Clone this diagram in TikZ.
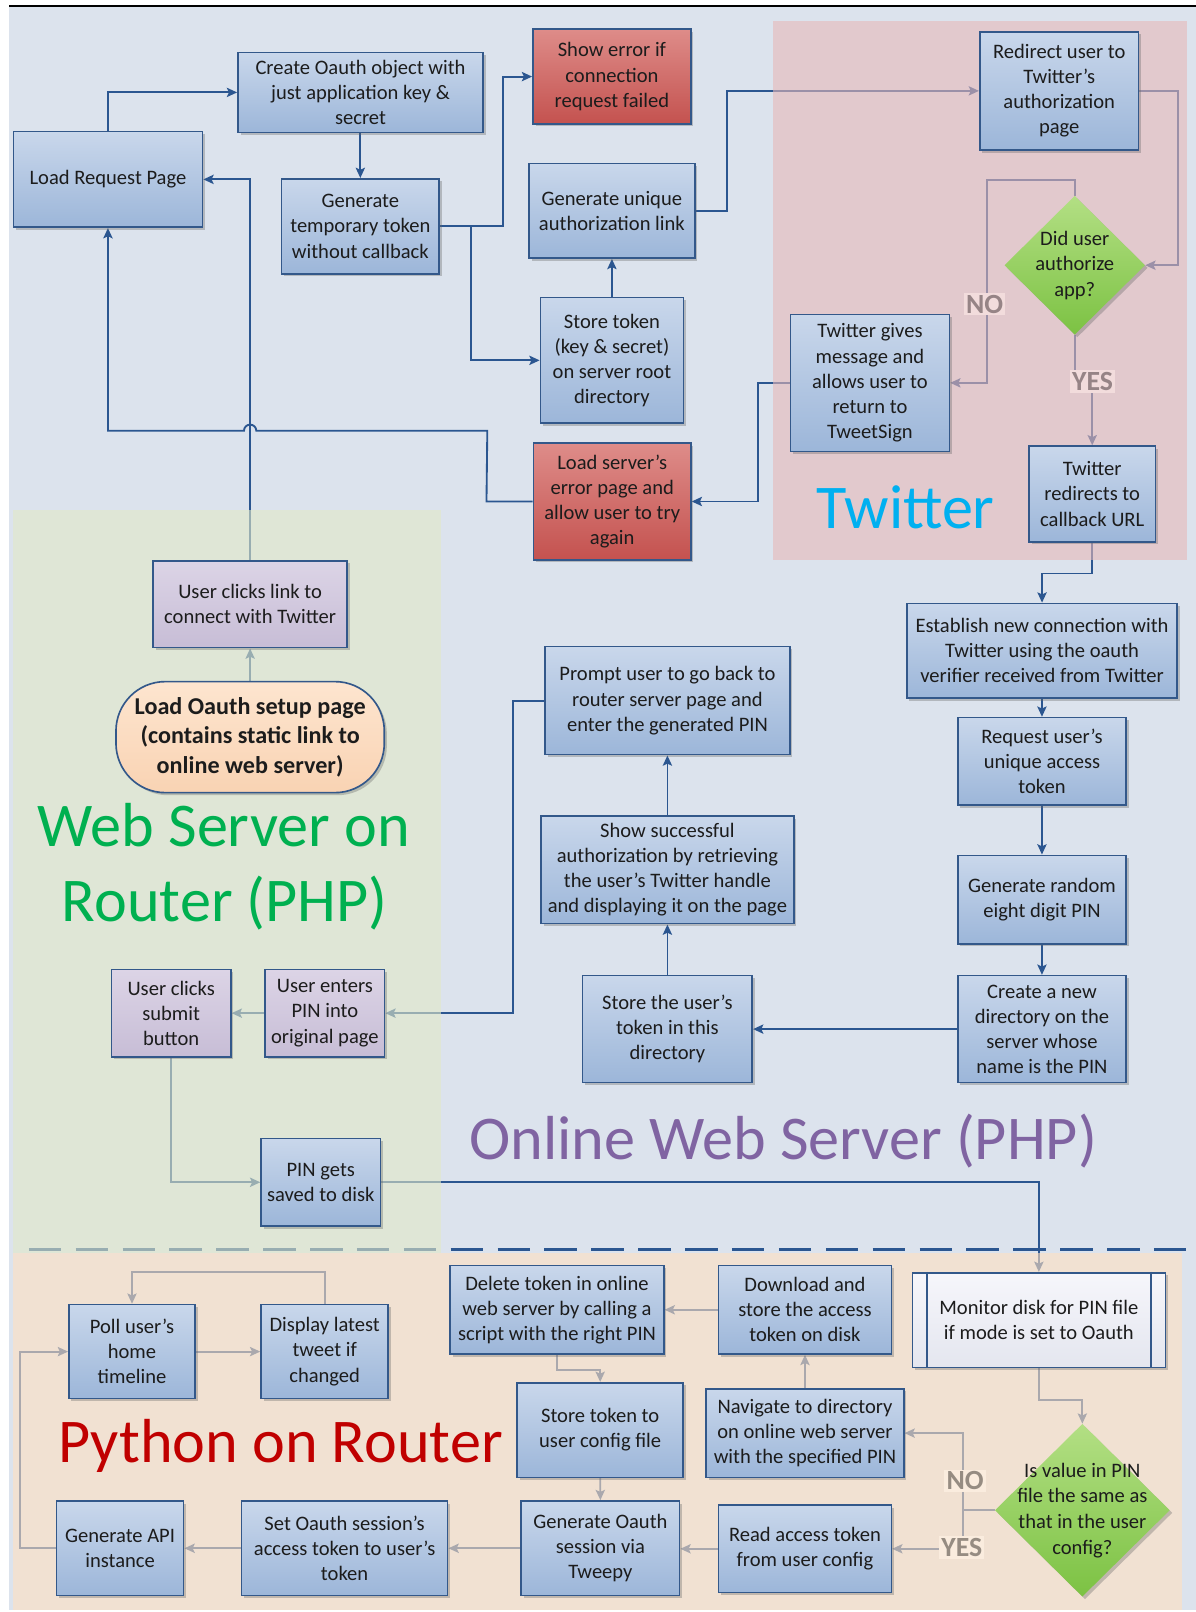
\documentclass[tikz,border=0pt]{standalone}
\usepackage{fontspec}
\setmainfont{Carlito}
\usetikzlibrary{arrows.meta,shapes.geometric,shadows,calc}
\definecolor{bgblue}{HTML}{DCE3ED}
\definecolor{linec}{HTML}{2B5690}
\definecolor{bordc}{HTML}{33588A}
\definecolor{txtc}{HTML}{1C1C1C}
\definecolor{twpink}{RGB}{230,184,185}
\definecolor{wsgreen}{RGB}{225,232,200}
\definecolor{pypeach}{RGB}{255,224,193}
\definecolor{bluetop}{HTML}{C9D7EB}
\definecolor{bluebot}{HTML}{9CB6D9}
\definecolor{redtop}{HTML}{DE8C89}
\definecolor{redbot}{HTML}{C4524F}
\definecolor{purtop}{HTML}{DCD4E6}
\definecolor{purbot}{HTML}{C7BDD6}
\definecolor{peachtop}{HTML}{FDE5CF}
\definecolor{peachbot}{HTML}{F9D3B3}
\definecolor{diamtop}{HTML}{B3DF84}
\definecolor{diambot}{HTML}{7CC243}
\definecolor{montop}{HTML}{F6F6FB}
\definecolor{monbot}{HTML}{E4E6EF}
\definecolor{twlabbg}{RGB}{242,220,220}
\definecolor{twlabtx}{RGB}{150,132,134}
\definecolor{pylabbg}{RGB}{250,236,222}
\definecolor{pylabtx}{RGB}{150,140,130}
\definecolor{tcyan}{HTML}{00B0F0}
\definecolor{tgreen}{HTML}{00B050}
\definecolor{tpurple}{HTML}{8064A2}
\definecolor{tred}{HTML}{C00000}
\pgfdeclarelayer{bgl}
\pgfdeclarelayer{lines}
\pgfdeclarelayer{regions}
\pgfsetlayers{bgl,lines,regions,main}
\tikzset{
  box/.style={rectangle, draw=bordc, line width=1.6pt, align=center, inner sep=1pt,
    text=txtc, font=\fontsize{20}{24.4}\selectfont,
    drop shadow={shadow xshift=2.5pt, shadow yshift=-2.5pt, opacity=0.35, fill=black!60}},
  bluebox/.style={box, top color=bluetop, bottom color=bluebot},
  redbox/.style={box, top color=redtop, bottom color=redbot},
  purplebox/.style={box, top color=purtop, bottom color=purbot},
  capsule/.style={box, rounded corners=48pt, top color=peachtop, bottom color=peachbot,
    font=\fontsize{23.5}{28.5}\selectfont\bfseries},
  monbox/.style={box, top color=montop, bottom color=monbot},
  diam/.style={diamond, draw=none, inner sep=0pt, top color=diamtop, bottom color=diambot,
    drop shadow={shadow xshift=2.5pt, shadow yshift=-2.5pt, opacity=0.35, fill=black!60}},
  dtext/.style={align=center, inner sep=0pt, text=txtc, font=\fontsize{20}{25}\selectfont},
  conn/.style={draw=linec, line width=1.8pt, -{Stealth[length=10pt,width=9pt,inset=2pt]}},
  plainline/.style={draw=linec, line width=1.8pt},
  dashline/.style={draw=linec, line width=3pt, dash pattern=on 31.6pt off 14pt},
  lab/.style={inner sep=2pt, font=\fontsize{27}{30}\selectfont\bfseries},
  ttl/.style={anchor=base, inner sep=0pt, font=\fontsize{60.5}{73}\selectfont}
}
\begin{document}
\begin{tikzpicture}[x=1pt,y=-1pt]
\useasboundingbox (0,0) rectangle (1163,1568);
\begin{pgfonlayer}{bgl}
  \fill[bgblue] (9,6.5) rectangle (1163,1566);
  \draw[line width=2pt, black] (9,5.8) -- (1163,5.8);
\end{pgfonlayer}

% ---------- nodes ----------
\node[bluebox, minimum width=184pt, minimum height=93pt] (loadreq) at (105,174.5) {Load Request Page};
\node[bluebox, minimum width=238.5pt, minimum height=77.7pt] (createoauth) at (350.7,89.9) {Create Oauth object with\\just application key \&\\secret};
\node[bluebox, minimum width=153.5pt, minimum height=92.5pt] (gentemp) at (350.5,220.2) {Generate\\temporary token\\without callback};
\node[redbox, minimum width=153.6pt, minimum height=92pt] (showerr) at (595.2,74.5) {Show error if\\connection\\request failed};
\node[bluebox, minimum width=161.2pt, minimum height=92pt] (genlink) at (595.2,205) {Generate unique\\authorization link};
\node[bluebox, minimum width=139pt, minimum height=122pt] (storetok) at (595.2,350.5) {Store token\\(key \& secret)\\on server root\\directory};
\node[redbox, minimum width=153pt, minimum height=113.6pt] (loaderr) at (595.5,487.8) {Load server’s\\error page and\\allow user to try\\again};
\node[bluebox, minimum width=154.5pt, minimum height=115pt] (redirect) at (1030.3,88.4) {Redirect user to\\Twitter’s\\authorization\\page};
\node[diam, minimum width=136.8pt, minimum height=135pt] (did) at (1045.4,258) {};
\node[dtext] (didtxt) at (did.center) {Did user\\authorize\\app?};
\node[bluebox, minimum width=154.5pt, minimum height=133.3pt] (twgives) at (846.2,372.4) {Twitter gives\\message and\\allows user to\\return to\\TweetSign};
\node[bluebox, minimum width=122.8pt, minimum height=93pt] (twredir) at (1062.4,480.5) {Twitter\\redirects to\\callback URL};
\node[bluebox, minimum width=263pt, minimum height=92pt] (establish) at (1013.6,633) {Establish new connection with\\Twitter using the oauth\\verifier received from Twitter};
\node[bluebox, minimum width=163.7pt, minimum height=85pt] (reqaccess) at (1013.5,740.5) {Request user’s\\unique access\\token};
\node[bluebox, minimum width=163.7pt, minimum height=86pt] (genpin) at (1013.5,875) {Generate random\\eight digit PIN};
\node[bluebox, minimum width=163.7pt, minimum height=104pt] (createdir) at (1013.5,1001) {Create a new\\directory on the\\server whose\\name is the PIN};
\node[bluebox, minimum width=165pt, minimum height=104pt] (storeuser) at (649.2,1001) {Store the user’s\\token in this\\directory};
\node[bluebox, minimum width=246pt, minimum height=104.5pt] (showsucc) at (649.2,846.2) {Show successful\\authorization by retrieving\\the user’s Twitter handle\\and displaying it on the page};
\node[bluebox, minimum width=238pt, minimum height=105pt] (prompt) at (649.2,681.5) {Prompt user to go back to\\router server page and\\enter the generated PIN};
\node[purplebox, minimum width=188.6pt, minimum height=84.5pt] (clicklink) at (243.3,587.7) {User clicks link to\\connect with Twitter};
\node[capsule, minimum width=261pt, minimum height=108pt] (loadoauth) at (243.3,717) {Load Oauth setup page\\(contains static link to\\online web server)};
\node[purplebox, minimum width=116pt, minimum height=85pt] (clicksubmit) at (166.5,985.5) {User clicks\\submit\\button};
\node[purplebox, minimum width=116pt, minimum height=85pt] (userenters) at (316,985.5) {User enters\\PIN into\\original page};
\node[bluebox, minimum width=116pt, minimum height=85pt] (pinsaved) at (312,1150) {PIN gets\\saved to disk};
\node[monbox, minimum width=246pt, minimum height=92pt] (monitor) at (1010.5,1284) {Monitor disk for PIN file\\if mode is set to Oauth};
\draw[draw=bordc, line width=1.6pt] ([xshift=15pt]monitor.north west) -- ([xshift=15pt]monitor.south west);
\draw[draw=bordc, line width=1.6pt] ([xshift=-15pt]monitor.north east) -- ([xshift=-15pt]monitor.south east);
\node[diam, minimum width=170pt, minimum height=168pt] (isvalue) at (1052.8,1469) {};
\node[dtext] (isvaluetxt) at (isvalue.center) {Is value in PIN\\file the same as\\that in the user\\config?};
\node[bluebox, minimum width=192pt, minimum height=86pt] (navigate) at (783,1394) {Navigate to directory\\on online web server\\with the specified PIN};
\node[bluebox, minimum width=168pt, minimum height=86pt] (download) at (783,1274) {Download and\\store the access\\token on disk};
\node[bluebox, minimum width=207.6pt, minimum height=86pt] (delete) at (541.8,1274) {Delete token in online\\web server by calling a\\script with the right PIN};
\node[bluebox, minimum width=161.7pt, minimum height=92pt] (storeconfig) at (583.8,1391) {Store token to\\user config file};
\node[bluebox, minimum width=154pt, minimum height=92pt] (genoauthsess) at (584,1506) {Generate Oauth\\session via\\Tweepy};
\node[bluebox, minimum width=168pt, minimum height=85pt] (readaccess) at (783,1506.5) {Read access token\\from user config};
\node[bluebox, minimum width=200.4pt, minimum height=92pt] (setoauth) at (335.2,1506) {Set Oauth session’s\\access token to user’s\\token};
\node[bluebox, minimum width=123.6pt, minimum height=92pt] (genapi) at (116.8,1506) {Generate API\\instance};
\node[bluebox, minimum width=122.8pt, minimum height=91.5pt] (poll) at (128.4,1314.7) {Poll user’s\\home\\timeline};
\node[bluebox, minimum width=123.7pt, minimum height=91.5pt] (display) at (315.8,1314.7) {Display latest\\tweet if\\changed};

% ---------- connectors ----------
\begin{pgfonlayer}{lines}
  \draw[conn] (loadreq.north) |- (createoauth.west);
  \draw[conn] (gentemp.north |- createoauth.south) -- (gentemp.north);
  \draw[conn] (gentemp.east) -- ++(61,0) |- (showerr.west);
  \draw[conn] (gentemp.east) -- ++(30.5,0) |- (storetok.west);
  \draw[conn] (storetok.north) -- (genlink.south);
  \draw[conn] (genlink.east) -- ++(30.2,0) |- (redirect.west);
  \draw[conn] (redirect.east) -- ++(37.7,0) |- (did.east);
  \draw[conn] (did.north) -- ++(0,-15.5) -- ++(-85,0) |- (twgives.east);
  \draw[conn] (did.south) -- ++(0,45.5) -| (twredir.north);
  \draw[conn] (twredir.south) -- ++(0,30) -| (establish.north);
  \draw[conn] (reqaccess.north |- establish.south) -- (reqaccess.north);
  \draw[conn] (reqaccess.south) -- (genpin.north);
  \draw[conn] (genpin.south) -- (createdir.north);
  \draw[conn] (createdir.west) -- (storeuser.east);
  \draw[conn] (storeuser.north) -- (showsucc.south);
  \draw[conn] (showsucc.north) -- (prompt.south);
  \draw[conn] (prompt.west) -- ++(-30,0) |- (userenters.east);
  \draw[conn] (userenters.west) -- (clicksubmit.east);
  \draw[conn] (clicksubmit.south) |- (pinsaved.west);
  \draw[conn] (pinsaved.east) -| (monitor.north);
  \draw[conn] (monitor.south) -- ++(0,30.6) -| (isvalue.north);
  \draw[plainline] (isvalue.west) -- ++(-31,0) coordinate (split);
  \draw[conn] (split) |- (navigate.east);
  \draw[conn] (split) |- (readaccess.east);
  \draw[conn] (navigate.north) -- (download.south);
  \draw[conn] (download.west) -- (delete.east);
  \draw[conn] (delete.south) -- ++(0,15) -| (storeconfig.north);
  \draw[conn] (storeconfig.south) -- (genoauthsess.north);
  \draw[conn] (readaccess.west) -- (readaccess.west -| genoauthsess.east);
  \draw[conn] (genoauthsess.west) -- (setoauth.east);
  \draw[conn] (setoauth.west) -- (genapi.east);
  \draw[conn] (genapi.west) -- ++(-34.5,0) |- (poll.west);
  \draw[conn] (poll.east) -- (display.west);
  \draw[conn] (display.north) -- ++(0,-31) -| (poll.north);
  \draw[conn] (clicklink.north) |- (loadreq.east);
  \draw[conn] (loaderr.west) -- ++(-45,0) -- (474,419) -- (249.3,419)
      arc[start angle=0,end angle=180,radius=6pt] -- (105,419) -- (loadreq.south);
  \draw[conn] (twgives.west) -- ++(-30.5,0) |- (loaderr.east);
  \draw[conn] (loadoauth.north) -- (clicklink.south);
  \draw[dashline] (28,1215.5) -- (1163,1215.5);
\end{pgfonlayer}

% ---------- regions (translucent overlays) ----------
\begin{pgfonlayer}{regions}
  \fill[twpink, fill opacity=0.6] (751.6,20) rectangle (1154.4,544.6);
  \fill[wsgreen, fill opacity=0.6] (13,496) rectangle (428.5,1219);
  \fill[pypeach, fill opacity=0.6] (13,1219) rectangle (1150,1566);
\end{pgfonlayer}

% ---------- labels ----------
\node[lab, fill=twlabbg, text=twlabtx] (no1) at (957.7,295.8) {NO};
\node[lab, fill=twlabbg, text=twlabtx] (yes1) at (1062.7,371) {YES};
\node[lab, fill=pylabbg, text=pylabtx] (no2) at (938.7,1440.5) {NO};
\node[lab, fill=pylabbg, text=pylabtx] (yes2) at (935.6,1505.3) {YES};

% ---------- titles ----------
\node[ttl, text=tcyan] (ttwitter) at (881,513.7) {Twitter};
\node[ttl, text=tgreen] (tws1) at (217.7,823.3) {Web Server on};
\node[ttl, text=tgreen] (tws2) at (218.6,896.2) {Router (PHP)};
\node[ttl, text=tpurple] (tonline) at (761.7,1128) {Online Web Server (PHP)};
\node[ttl, text=tred] (tpython) at (273,1423) {Python on Router};
\end{tikzpicture}
\end{document}
